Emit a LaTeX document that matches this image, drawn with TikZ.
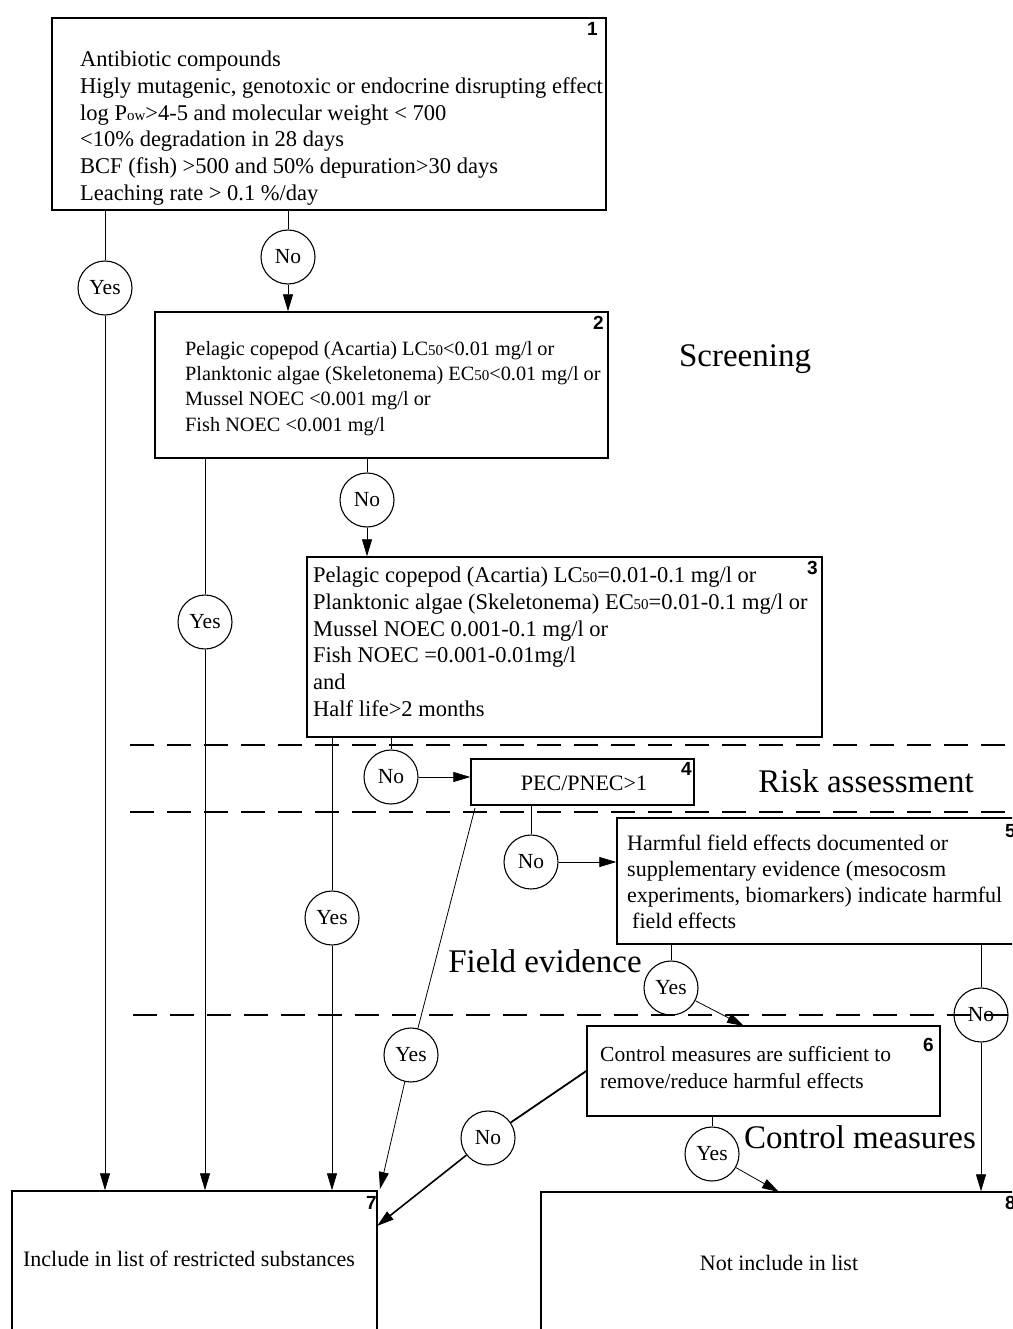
\documentclass[tikz,border=0pt]{standalone}
\usepackage{fontspec}
\setmainfont{Liberation Serif}
\newfontfamily\numfont{Liberation Sans}
\usetikzlibrary{arrows.meta,calc}
\newcommand{\sm}[1]{{\fontsize{15}{15}\selectfont #1}}
\begin{document}
\begin{tikzpicture}[x=1pt,y=-1pt,
  box/.style={draw, line width=1.4pt, inner sep=0pt, rectangle},
  txt/.style={inner sep=0pt, align=left, anchor=north west, font=\fontsize{22.5}{26.7}\selectfont},
  txtb/.style={inner sep=0pt, align=left, anchor=north west, font=\fontsize{20.3}{25.3}\selectfont},
  one/.style={inner sep=0pt, font=\fontsize{22}{26}\selectfont},
  num/.style={inner sep=0pt, anchor=north east, font=\numfont\bfseries\fontsize{19}{19}\selectfont},
  sect/.style={inner sep=0pt, font=\fontsize{33}{36}\selectfont},
  dec/.style={draw, circle, line width=1.1pt, minimum size=54pt, inner sep=0pt, font=\fontsize{21.5}{21.5}\selectfont},
  ln/.style={line width=0.8pt},
  arr/.style={line width=0.8pt, -{Triangle[length=17pt,width=10pt]}},
  thk/.style={line width=1.8pt},
  thkarr/.style={line width=1.6pt, -{Triangle[length=17pt,width=10pt]}},
  sep/.style={line width=1.4pt, dash pattern=on 24pt off 13pt}]
\useasboundingbox (0,0) rectangle (1012,1329);
\clip (0,0) rectangle (1012,1329);

% separators
\draw[sep] (130,745) -- (1020,745);
\draw[sep] (130,812) -- (1020,812);
\draw[sep] (133,1015) -- (1020,1015);

% boxes
\node[box, minimum width=554pt, minimum height=192pt] (b1) at (329,114) {};
\node[box, minimum width=453pt, minimum height=146pt] (b2) at (381.5,385) {};
\node[box, minimum width=515pt, minimum height=180pt] (b3) at (564.5,647) {};
\node[box, minimum width=223pt, minimum height=46pt] (b4) at (582.5,782) {};
\node[box, minimum width=423pt, minimum height=126pt] (b5) at (828.5,881) {};
\node[box, minimum width=353pt, minimum height=90pt] (b6) at (763.5,1071) {};
\node[box, minimum width=365pt, minimum height=160pt] (b7) at (194.5,1271) {};
\node[box, minimum width=499pt, minimum height=160pt] (b8) at (790.5,1272) {};

% numbers
\node[num] (k1) at (598,22) {1};
\node[num] (k2) at (604,316) {2};
\node[num] (k3) at (818,561) {3};
\node[num] (k4) at (692,762) {4};
\node[num] (k5) at (1016,824) {5};
\node[num] (k6) at (934,1038) {6};
\node[num] (k7) at (377,1196) {7};
\node[num] (k8) at (1016,1196) {8};

% box texts
\node[txt] (t1) at (80,51) {Antibiotic compounds\\
Higly mutagenic, genotoxic or endocrine disrupting effect\\
log P\sm{ow}>4-5 and molecular weight < 700\\
<10\% degradation in 28 days\\
BCF (fish) >500 and 50\% depuration>30 days\\
Leaching rate > 0.1 \%/day};
\node[txtb] (t2) at (185,341) {Pelagic copepod (Acartia) LC\sm{50}<0.01 mg/l or\\
Planktonic algae (Skeletonema) EC\sm{50}<0.01 mg/l or\\
Mussel NOEC <0.001 mg/l or\\
Fish NOEC <0.001 mg/l};
\node[txt] (t3) at (313,567) {Pelagic copepod (Acartia) LC\sm{50}=0.01-0.1 mg/l or\\
Planktonic algae (Skeletonema) EC\sm{50}=0.01-0.1 mg/l or\\
Mussel NOEC 0.001-0.1 mg/l or\\
Fish NOEC =0.001-0.01mg/l\\
and\\
Half life>2 months};
\node[one] (t4) at (584,783) {PEC/PNEC>1};
\node[txt, font=\fontsize{22}{26}\selectfont] (t5) at (627,835) {Harmful field effects documented or\\
supplementary evidence (mesocosm\\
experiments, biomarkers) indicate harmful\\
\hspace*{5pt}field effects};
\node[txt, font=\fontsize{21.5}{27}\selectfont] (t6) at (600,1046) {Control measures are sufficient to\\
remove/reduce harmful effects};
\node[one] (t7) at (189,1259) {Include in list of restricted substances};
\node[one] (t8) at (779,1263) {Not include in list};

% section labels
\node[sect] (s1) at (745,359) {Screening};
\node[sect] (s2) at (866,781) {Risk assessment};
\node[sect] (s3) at (545,961) {Field evidence};
\node[sect] (s4) at (860,1137) {Control measures};

% decision circles
\node[dec] (y1) at (105,288) {Yes};
\node[dec] (n1) at (288,257) {No};
\node[dec] (y2) at (205,622) {Yes};
\node[dec] (n2) at (367,500) {No};
\node[dec] (y3) at (332,918) {Yes};
\node[dec] (n3) at (391,777) {No};
\node[dec] (n4) at (531,862) {No};
\node[dec] (y4) at (411,1055) {Yes};
\node[dec] (y5) at (671,988) {Yes};
\node[dec] (n5) at (981,1015) {No};
\node[dec] (n6) at (488,1138) {No};
\node[dec] (y6) at (712,1154) {Yes};

% helper coordinates
\coordinate (c4) at (475,808);
\coordinate (e7) at (380,1189);
\coordinate (f7) at (377,1226);
\coordinate (e6) at (744,1026);
\coordinate (e8) at (779,1192);

% connectors
\draw[ln] (b1.south -| y1) -- (y1);
\draw[arr] (y1) -- (b7.north -| y1);
\draw[ln] (b1.south -| n1) -- (n1);
\draw[arr] (n1) -- (b2.north -| n1);
\draw[ln] (b2.south -| y2) -- (y2);
\draw[arr] (y2) -- (b7.north -| y2);
\draw[ln] (b2.south -| n2) -- (n2);
\draw[arr] (n2) -- (b3.north -| n2);
\draw[ln] (b3.south -| y3) -- (y3);
\draw[arr] (y3) -- (b7.north -| y3);
\draw[ln] (b3.south -| n3) -- (n3);
\draw[arr] (n3) -- (n3 -| b4.west);
\draw[ln] (b4.south -| n4) -- (n4);
\draw[arr] (n4) -- (n4 -| b5.west);
\draw[ln] (c4) -- (y4);
\draw[arr] (y4) -- (e7);
\draw[ln] (b5.south -| y5) -- (y5);
\draw[arr] (y5) -- (e6);
\draw[ln] (b5.south -| n5) -- (n5);
\draw[arr] (n5) -- (b8.north -| n5);
\draw[thk] (b6.west) -- (n6);
\draw[thkarr] (n6) -- (f7);
\draw[ln] (b6.south -| y6) -- (y6);
\draw[arr] (y6) -- (e8);
\end{tikzpicture}
\end{document}
